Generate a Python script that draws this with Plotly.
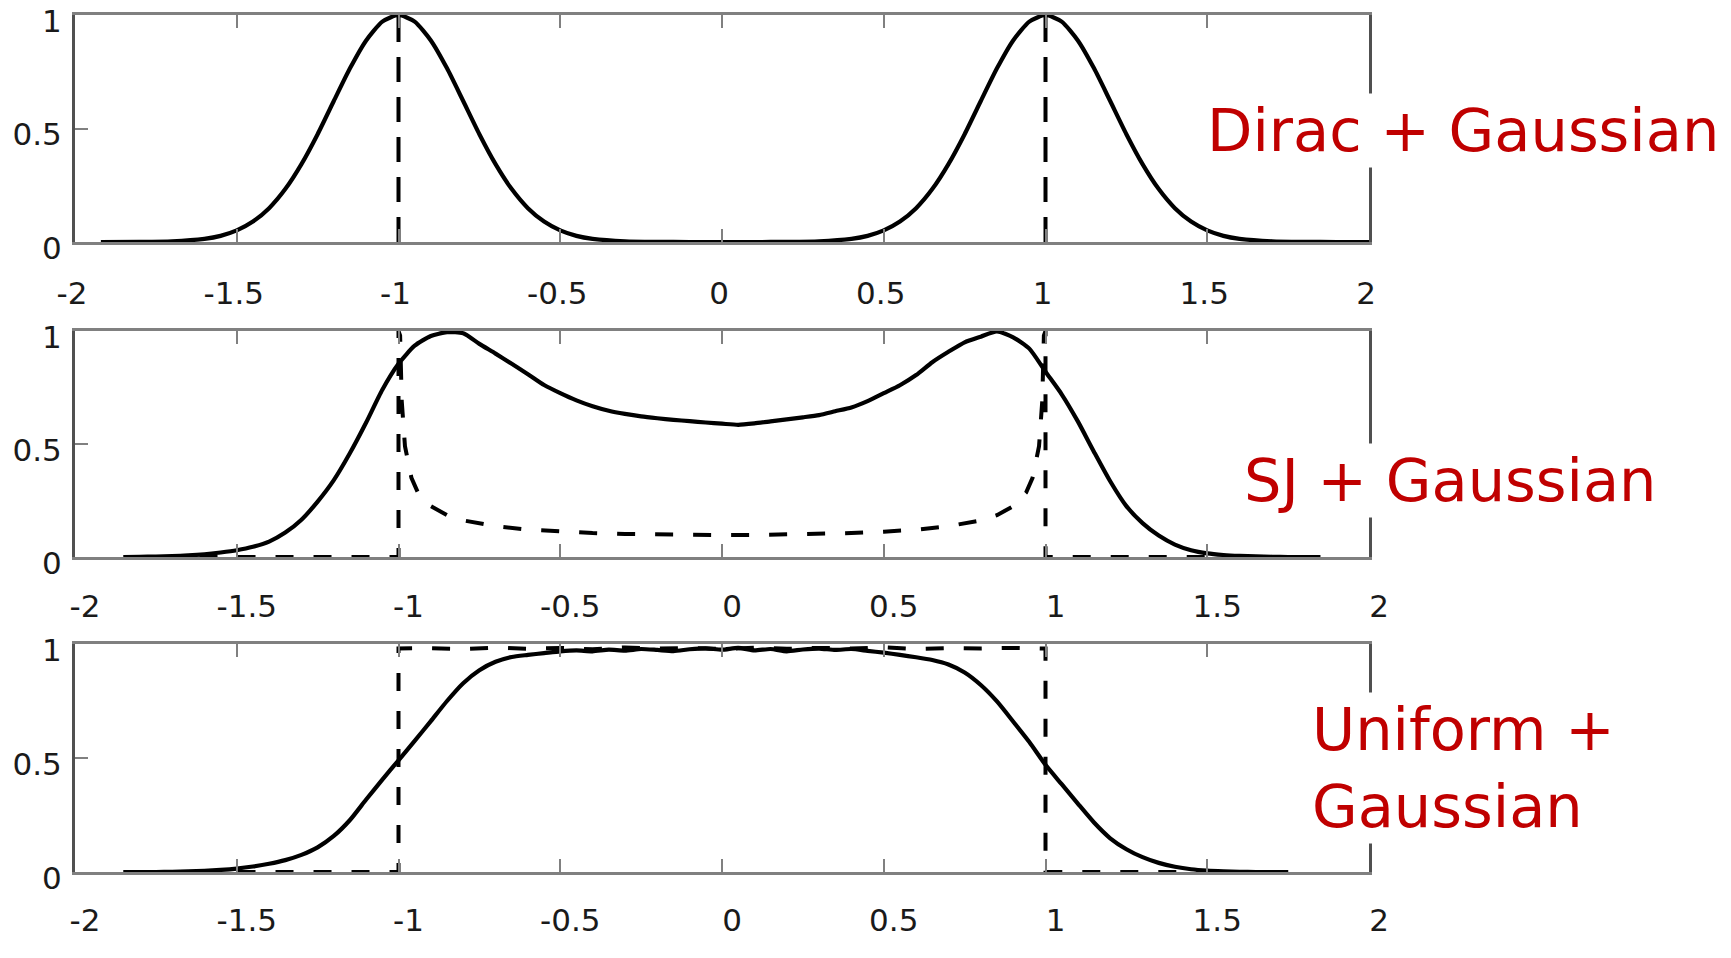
import plotly.graph_objects as go

# ---------------- data ----------------
# Panel 1: Dirac + Gaussian
x_dirac_gauss = [-1.92, -1.8, -1.7, -1.6, -1.55, -1.5, -1.45, -1.4, -1.35, -1.3, -1.25, -1.2, -1.15, -1.1, -1.05,
                 -1.0, -0.95, -0.9, -0.85, -0.8, -0.75, -0.7, -0.65, -0.6, -0.55, -0.5, -0.45, -0.4, -0.3, -0.2,
                 -0.1, 0.0, 0.1, 0.2, 0.3, 0.4, 0.45, 0.5, 0.55, 0.6, 0.65, 0.7, 0.75, 0.8, 0.85, 0.9, 0.95,
                 1.0, 1.05, 1.1, 1.15, 1.2, 1.25, 1.3, 1.35, 1.4, 1.45, 1.5, 1.55, 1.6, 1.7, 1.8, 1.9, 2.0]
y_dirac_gauss = [0.0, 0.0005, 0.003, 0.014, 0.027, 0.051, 0.090, 0.149, 0.233, 0.343, 0.475, 0.621, 0.765, 0.888, 0.971,
                 1.0, 0.971, 0.888, 0.765, 0.621, 0.475, 0.343, 0.233, 0.149, 0.090, 0.051, 0.027, 0.014, 0.003, 0.0005,
                 0.0, 0.0, 0.0, 0.0005, 0.003, 0.014, 0.027, 0.051, 0.090, 0.149, 0.233, 0.343, 0.475, 0.621, 0.765, 0.888, 0.971,
                 1.0, 0.971, 0.888, 0.765, 0.621, 0.475, 0.343, 0.233, 0.149, 0.090, 0.051, 0.027, 0.014, 0.003, 0.0005, 0.0, 0.0]
x_dirac = [-1.0, -1.0, None, 1.0, 1.0]
y_dirac = [0.0, 1.0, None, 0.0, 1.0]

# Panel 2: SJ + Gaussian
x_sj_gauss = [-1.85, -1.8, -1.75, -1.7, -1.65, -1.6, -1.55, -1.5, -1.45, -1.4, -1.35, -1.3, -1.25, -1.2, -1.15,
              -1.1, -1.05, -1.0, -0.95, -0.9, -0.85, -0.8, -0.75, -0.7, -0.65, -0.6, -0.55, -0.5, -0.45, -0.4,
              -0.35, -0.3, -0.25, -0.2, -0.15, -0.1, -0.05, 0.0, 0.05, 0.1, 0.15, 0.2, 0.25, 0.3, 0.35, 0.4,
              0.45, 0.5, 0.55, 0.6, 0.65, 0.7, 0.75, 0.8, 0.85, 0.9, 0.95, 1.0, 1.05, 1.1, 1.15, 1.2, 1.25,
              1.3, 1.35, 1.4, 1.45, 1.5, 1.55, 1.6, 1.65, 1.7, 1.75, 1.8, 1.85]
y_sj_gauss = [0.0, 0.001, 0.002, 0.004, 0.007, 0.012, 0.02, 0.03, 0.045, 0.068, 0.108, 0.165, 0.245, 0.34, 0.46,
              0.595, 0.74, 0.855, 0.935, 0.978, 0.995, 0.99, 0.943, 0.9, 0.855, 0.809, 0.761, 0.725, 0.693, 0.667,
              0.647, 0.633, 0.622, 0.614, 0.607, 0.601, 0.595, 0.59, 0.585, 0.591, 0.6, 0.609, 0.618, 0.628, 0.645, 0.662,
              0.69, 0.725, 0.76, 0.805, 0.862, 0.908, 0.95, 0.975, 0.998, 0.972, 0.922, 0.82, 0.72, 0.60, 0.465, 0.335, 0.225,
              0.15, 0.095, 0.055, 0.03, 0.016, 0.009, 0.005, 0.003, 0.001, 0.0, 0.0, 0.0]
x_sj = [-1.85, -1.0, -1.0, -0.995, -0.99, -0.98, -0.96, -0.94, -0.9, -0.85, -0.8, -0.7, -0.6, -0.5, -0.4, -0.3,
        -0.2, -0.1, 0.0, 0.1, 0.2, 0.3, 0.4, 0.5, 0.6, 0.7, 0.8, 0.85, 0.9, 0.94, 0.96, 0.98, 0.99, 0.995,
        1.0, 1.0, 1.85]
y_sj = [0.0, 0.0, 1.0, 0.98, 0.69, 0.49, 0.35, 0.285, 0.225, 0.185, 0.162, 0.136, 0.121, 0.112, 0.106, 0.102,
        0.099, 0.0975, 0.097, 0.0975, 0.099, 0.102, 0.106, 0.112, 0.121, 0.136, 0.162, 0.185, 0.225, 0.285, 0.35,
        0.49, 0.69, 0.98, 1.0, 0.0, 0.0]

# Panel 3: Uniform + Gaussian
x_uni_gauss = [-1.85, -1.8, -1.75, -1.7, -1.65, -1.6, -1.55, -1.5, -1.45, -1.4, -1.35, -1.3, -1.25, -1.2, -1.15,
               -1.1, -1.05, -1.0, -0.95, -0.9, -0.85, -0.8, -0.75, -0.7, -0.65, -0.6, -0.55, -0.5, -0.45, -0.4,
               -0.35, -0.3, -0.25, -0.2, -0.15, -0.1, -0.05, 0.0, 0.05, 0.1, 0.15, 0.2, 0.25, 0.3, 0.35, 0.4,
               0.45, 0.5, 0.55, 0.6, 0.65, 0.7, 0.75, 0.8, 0.85, 0.9, 0.95, 1.0, 1.05, 1.1, 1.15, 1.2, 1.25,
               1.3, 1.35, 1.4, 1.45, 1.5, 1.55, 1.6, 1.65, 1.7, 1.75]
y_uni_gauss = [0.0, 0.0, 0.0, 0.001, 0.003, 0.005, 0.009, 0.015, 0.024, 0.036, 0.052, 0.075, 0.108, 0.158, 0.228,
               0.318, 0.405, 0.49, 0.575, 0.662, 0.75, 0.828, 0.885, 0.922, 0.943, 0.952, 0.96, 0.968, 0.972, 0.968,
               0.975, 0.971, 0.978, 0.974, 0.969, 0.977, 0.981, 0.975, 0.983, 0.972, 0.978, 0.968, 0.976, 0.98, 0.974, 0.978,
               0.97, 0.962, 0.952, 0.942, 0.93, 0.91, 0.875, 0.82, 0.748, 0.66, 0.57, 0.47, 0.385, 0.30, 0.217, 0.148, 0.10,
               0.065, 0.04, 0.023, 0.012, 0.006, 0.003, 0.001, 0.0, 0.0, 0.0]
x_uni = [-1.85, -1.0, -1.0, -0.9, -0.8, -0.7, -0.6, -0.5, -0.4, -0.3, -0.2, -0.1, 0.0, 0.1, 0.2, 0.3, 0.4, 0.5,
         0.6, 0.7, 0.8, 0.9, 1.0, 1.0, 1.75]
y_uni = [0.0, 0.0, 0.98, 0.982, 0.978, 0.984, 0.979, 0.983, 0.977, 0.985, 0.98, 0.982, 0.978, 0.984, 0.979, 0.983,
         0.98, 0.985, 0.978, 0.982, 0.98, 0.983, 0.98, 0.0, 0.0]

x_ticks = [-2, -1.5, -1, -0.5, 0, 0.5, 1, 1.5, 2]
x_ticktext = ["-2", "-1.5", "-1", "-0.5", "0", "0.5", "1", "1.5", "2"]
y_ticks = [0, 0.5, 1]
y_ticktext = ["0", "0.5", "1"]

labels = ["Dirac + Gaussian", "SJ + Gaussian", "Uniform +<br>Gaussian"]

panels = [
    (x_dirac_gauss, y_dirac_gauss, x_dirac, y_dirac),
    (x_sj_gauss, y_sj_gauss, x_sj, y_sj),
    (x_uni_gauss, y_uni_gauss, x_uni, y_uni),
]

# ---------------- layout ----------------
W, H = 1731, 958
x_dom = [75 / W, 1369 / W]
y_pix = [(15, 242), (331, 557), (644, 872)]  # top, bottom in pixels
label_shift = [-3, 10, 10]
label_standoff = [22, 20, 19]
dash_styles = ["25px,15px", "18px,20px", "18px,20px"]
label_pos = [(1204, 130), (1241, 480), (1309, 768)]

fig = go.Figure()
font_family = "DejaVu Sans"

for i, (xs, ys, xd, yd) in enumerate(panels):
    n = i + 1
    xa = "x" if n == 1 else f"x{n}"
    ya = "y" if n == 1 else f"y{n}"
    fig.add_trace(go.Scatter(x=xd, y=yd, mode="lines", xaxis=xa, yaxis=ya,
                             line=dict(color="black", width=4, dash=dash_styles[i]),
                             showlegend=False, hoverinfo="skip"))
    fig.add_trace(go.Scatter(x=xs, y=ys, mode="lines", xaxis=xa, yaxis=ya,
                             line=dict(color="black", width=4.2, shape="spline", smoothing=0.6),
                             showlegend=False, hoverinfo="skip"))
    top, bot = y_pix[i]
    xkey = "xaxis" if n == 1 else f"xaxis{n}"
    ykey = "yaxis" if n == 1 else f"yaxis{n}"
    fig.layout[xkey] = dict(
        domain=x_dom, anchor=ya, range=[-2, 2], tickvals=x_ticks, ticktext=x_ticktext,
        ticks="inside", ticklen=13, tickwidth=2, tickcolor="#808080",
        showline=True, linecolor="#808080", linewidth=3, mirror="ticks",
        showgrid=False, zeroline=False, fixedrange=True, automargin=False,
        tickfont=dict(family=font_family, size=31, color="#1a1a1a"),
        ticklabelstandoff=label_standoff[i], ticklabelshift=label_shift[i],
        ticklabeloverflow="allow",
    )
    fig.layout[ykey] = dict(
        domain=[1 - bot / H, 1 - top / H], anchor=xa, range=[0, 1], tickvals=y_ticks, ticktext=y_ticktext,
        ticks="inside", ticklen=13, tickwidth=2, tickcolor="#808080",
        showline=True, linecolor="#505050", linewidth=3, mirror=True,
        showgrid=False, zeroline=False, fixedrange=True, automargin=False,
        tickfont=dict(family=font_family, size=31, color="#1a1a1a"),
        ticklabelstandoff=4, ticklabelshift=6, ticklabeloverflow="allow",
    )
    px, py = label_pos[i]
    fig.add_annotation(text=labels[i], xref="paper", yref="paper", x=px / W, y=1 - py / H,
                       xanchor="left", yanchor="middle", align="left", showarrow=False,
                       font=dict(family=font_family, size=59, color="#C00000"),
                       bgcolor="white", borderpad=2)

fig.update_layout(width=W, height=H, margin=dict(l=0, r=0, t=0, b=0, pad=0, autoexpand=False),
                  paper_bgcolor="white", plot_bgcolor="white", showlegend=False)

fig.write_html("out.html", config={"displayModeBar": False})
